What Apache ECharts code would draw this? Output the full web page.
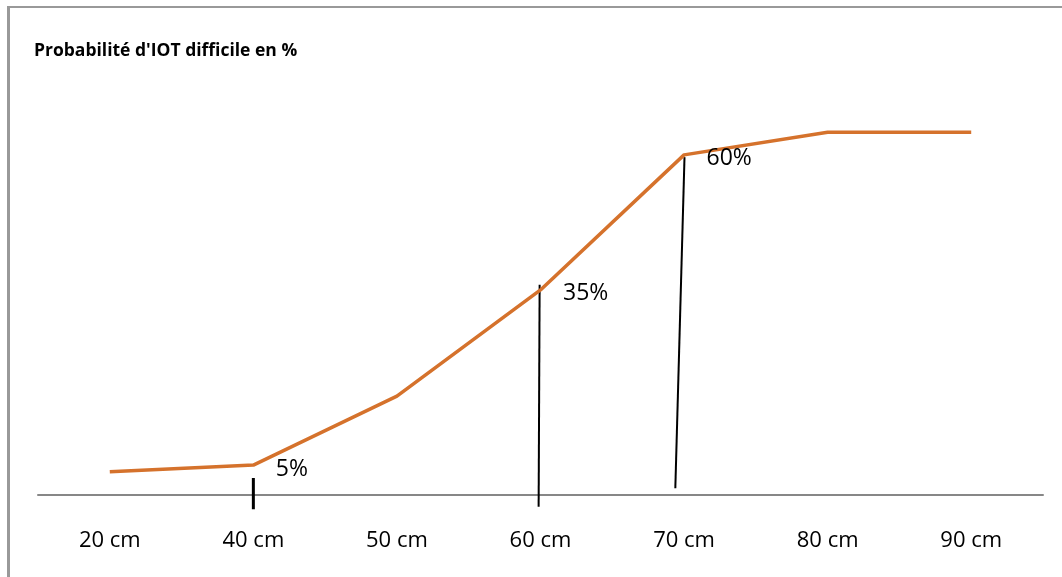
<!DOCTYPE html>
<html>
<head>
<meta charset="utf-8">
<script src="https://cdn.jsdelivr.net/npm/echarts@6/dist/echarts.min.js"></script>
<style>
  html, body { margin: 0; padding: 0; background: #fff; }
  #chart { width: 1062px; height: 577px; }
  /* cadre gris (haut + gauche) */
  .frame {
    position: absolute; left: 7px; top: 6px; width: 1080px; height: 600px;
    border-top: 2px solid #999; border-left: 3px solid #999;
    pointer-events: none;
  }
</style>
</head>
<body>
<div class="frame"></div>
<div id="chart"></div>
<script>
// --- données ---
const categories = ['20 cm', '40 cm', '50 cm', '60 cm', '70 cm', '80 cm', '90 cm'];
const probValues = [4.1, 5.3, 17.5, 36.3, 60.2, 64.2, 64.2];
const pointLabels = ['', '5%', '', '35%', '60%', '', ''];

// traits noirs tracés à la main (x = indice de catégorie, y = %)
const tick40 = [[1.0, 3.0], [1.0, -2.5]];
const line60 = [[2.994, 37.2], [2.987, -2.1]];
const line70 = [[4.003, 59.8], [3.939, 1.2]];

const chart = echarts.init(document.getElementById('chart'));

const lineData = probValues.map((v, i) => {
  if (!pointLabels[i]) return v;
  return { value: v, label: { show: true, formatter: pointLabels[i] } };
});

const blackLine = (data, width) => ({
  type: 'line',
  xAxisIndex: 1,
  data: data,
  symbol: 'none',
  silent: true,
  lineStyle: { color: '#000', width: width },
  z: 1
});

const option = {
  animation: false,
  textStyle: { fontFamily: 'Open Sans' },
  title: {
    text: "Probabilité d'IOT difficile en %",
    left: 29,
    top: 37,
    textStyle: { fontSize: 17.5, fontWeight: 'bold', color: '#000', fontFamily: 'Open Sans' }
  },
  grid: { left: 38, right: 19, top: 99.5, bottom: 53.75 },
  xAxis: [
    {
      type: 'category',
      data: categories,
      boundaryGap: true,
      axisLine: { onZero: true, lineStyle: { color: '#878787', width: 2 } },
      axisTick: { show: false },
      axisLabel: { color: '#000', fontSize: 22, margin: 6, fontFamily: 'Open Sans' },
      splitLine: { show: false }
    },
    {
      type: 'value',
      min: -0.5,
      max: 6.5,
      show: false
    }
  ],
  yAxis: {
    type: 'value',
    min: -5,
    max: 70,
    show: false,
    splitLine: { show: false }
  },
  series: [
    {
      type: 'line',
      data: lineData,
      symbol: 'circle',
      symbolSize: 1,
      showSymbol: true,
      itemStyle: { color: 'rgba(0,0,0,0)' },
      lineStyle: { color: '#D5722C', width: 3.5 },
      label: {
        position: 'right',
        distance: 22,
        offset: [0, 4],
        fontSize: 23,
        color: '#000',
        fontFamily: 'Open Sans'
      },
      z: 3
    },
    blackLine(tick40, 3),
    blackLine(line60, 2),
    blackLine(line70, 2)
  ]
};

chart.setOption(option);
</script>
</body>
</html>
